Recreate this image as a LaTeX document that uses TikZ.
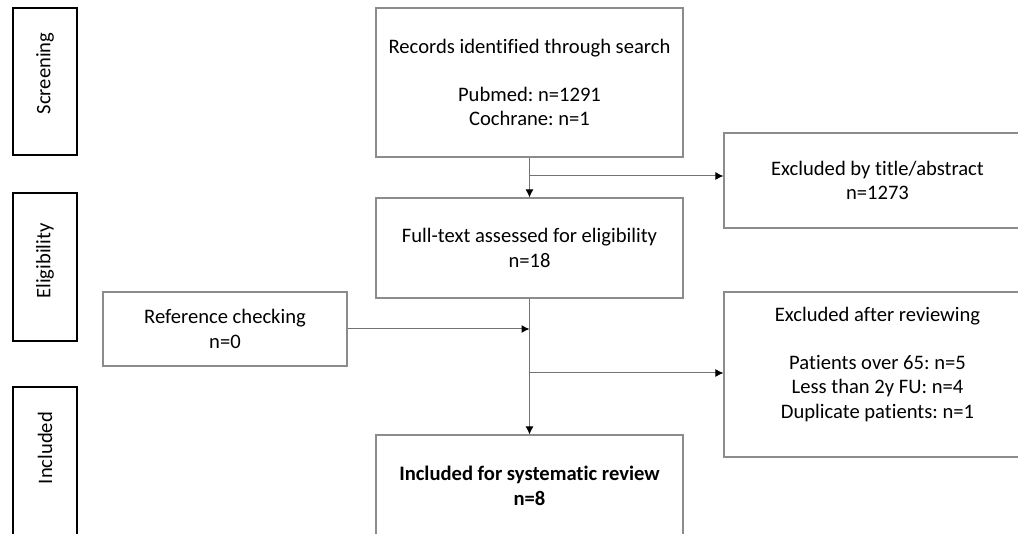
\documentclass[tikz,border=0pt]{standalone}
\usepackage{fontspec}
\setmainfont{Carlito}[Ligatures=NoCommon]
\usetikzlibrary{arrows.meta,positioning}
\tikzset{%
	phase/.style   = {draw, line width=1.2pt, rectangle, rotate=90, inner sep=0pt, minimum height=32pt},
	process/.style = {draw=black!45, line width=0.6pt, rectangle, align=center, inner sep=0pt, minimum width=153.5pt},
	arrow/.style   = {draw=black!55, line width=0.5pt, -{Latex[black,length=4pt,width=4pt]}},
}
\frenchspacing
\begin{document}
\begin{tikzpicture}[x=0.5pt,y=-0.5pt,font=\fontsize{10.3}{12.2}\selectfont]
		\useasboundingbox (0,0) rectangle (1018,534);
		
		% phases on the left
		\node[phase, minimum width=73.5pt] (screen) at (45,81.5) {\hspace*{8pt}Screening};
		\node[phase, minimum width=74pt] (elig) at (45,267) {\hspace*{6pt}Eligibility};
		\node[phase, minimum width=75pt] (incl) at (45,462) {\hspace*{14pt}Included};
		
		% main column
		\node[process, minimum height=74.5pt] (records) at (529.5,82.5) {Records identified through search\\[12pt]Pubmed: n=1291\\Cochrane: n=1};
		\node[process, minimum height=50pt] (fulltext) at (529.5,248) {Full-text assessed for eligibility\\n=18};
		\node[process, minimum height=51pt, font=\fontsize{10.3}{12.2}\selectfont\bfseries] (review) at (529.5,486) {Included for systematic review\\n=8};
		
		% side boxes
		\node[process, minimum height=37pt, minimum width=122pt] (refchk) at (225,329) {Reference checking\\n=0};
		\node[process, minimum height=47.5pt] (excltitle) at (877.5,180.5) {Excluded by title/abstract\\n=1273};
		\node[process, minimum height=82.5pt, text depth=12pt] (exclrev) at (877.5,374.5) {Excluded after reviewing\\[12pt]Patients over 65: n=5\\Less than 2y FU: n=4\\Duplicate patients: n=1};
		
		% connectors
		\coordinate (b1) at (529.5,176);
		\coordinate (j1) at (529.5,329);
		\coordinate (b2) at (529.5,373);
		\draw[arrow] (records) -- (fulltext);
		\draw[arrow] (b1) -- (b1 -| excltitle.west);
		\draw[arrow] (fulltext) -- (review);
		\draw[arrow] (refchk) -- (j1);
		\draw[arrow] (b2) -- (b2 -| exclrev.west);
		\end{tikzpicture}
\end{document}
